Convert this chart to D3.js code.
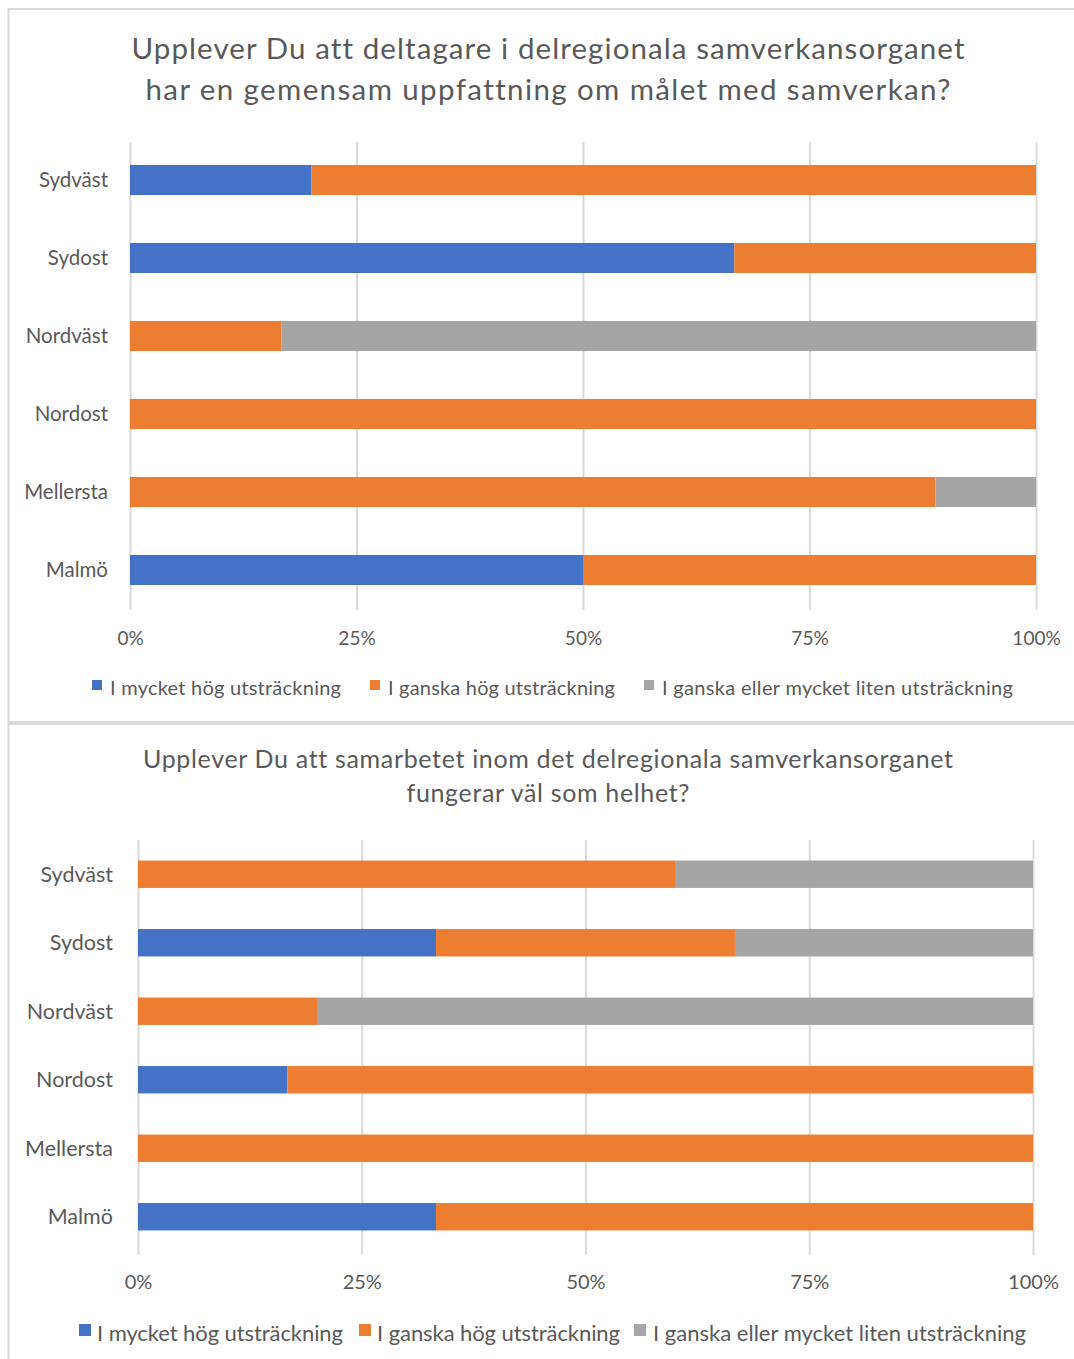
<!DOCTYPE html>
<html><head><meta charset="utf-8">
<script src="https://cdn.jsdelivr.net/npm/d3@7"></script>
<style>html,body{margin:0;padding:0;background:#fff;}svg{display:block;}text{font-variant-ligatures:none;}</style>
</head><body>
<script>
const categories = ["Sydväst", "Sydost", "Nordväst", "Nordost", "Mellersta", "Malmö"];
const seriesNames = ["I mycket hög utsträckning", "I ganska hög utsträckning", "I ganska eller mycket liten utsträckning"];
const colors = ["#4472C4", "#ED7D31", "#A5A5A5"];
const tickLabels = ["0%", "25%", "50%", "75%", "100%"];
const tickValues = [0, 0.25, 0.5, 0.75, 1];

const title1 = ["Upplever Du att deltagare i delregionala samverkansorganet", "har en gemensam uppfattning om målet med samverkan?"];
const hogA   = [0.20, 0.667, 0, 0, 0, 0.50];
const ganskaA= [0.80, 0.333, 0.167, 1.0, 0.889, 0.50];
const litenA = [0, 0, 0.833, 0, 0.111, 0];

const title2 = ["Upplever Du att samarbetet inom det delregionala samverkansorganet", "fungerar väl som helhet?"];
const hogB   = [0, 0.333, 0, 0.167, 0, 0.333];
const ganskaB= [0.60, 0.334, 0.20, 0.833, 1.0, 0.667];
const litenB = [0.40, 0.333, 0.80, 0, 0, 0];

const W = 1074, H = 1359;
const FONT = "Lato, 'Open Sans', sans-serif";
const svg = d3.select("body").append("svg").attr("width", W).attr("height", H);

// panel borders
svg.append("line").attr("x1", 8).attr("x2", W).attr("y1", 9).attr("y2", 9).attr("stroke", "#d9d9d9").attr("stroke-width", 2);
svg.append("line").attr("x1", 8.5).attr("x2", 8.5).attr("y1", 8).attr("y2", H).attr("stroke", "#d9d9d9").attr("stroke-width", 2);
svg.append("line").attr("x1", 8).attr("x2", W).attr("y1", 723).attr("y2", 723).attr("stroke", "#d9d9d9").attr("stroke-width", 4);

function drawChart(cfg) {
  const g = svg.append("g");
  const x = d3.scaleLinear().domain([0, 1]).range([cfg.x0, cfg.x1]);
  const y = d3.scaleBand().domain(categories).range([cfg.yTop, cfg.yBot]).paddingInner(cfg.pad).paddingOuter(cfg.pad / 2);

  // title
  cfg.title.forEach((t, i) => {
    g.append("text").attr("x", cfg.titleX).attr("y", cfg.titleY + i * cfg.titleLH)
      .attr("text-anchor", "middle").attr("font-family", FONT).attr("font-size", cfg.titleSize)
      .attr("textLength", cfg.titleW[i]).attr("lengthAdjust", "spacing")
      .attr("fill", "#595959").text(t);
  });

  // gridlines via axis
  const grid = g.append("g").attr("transform", `translate(0,${cfg.gridTop})`)
    .call(d3.axisBottom(x).tickValues(tickValues).tickSize(cfg.gridBot - cfg.gridTop).tickFormat(""));
  grid.select(".domain").remove();
  grid.selectAll("line").attr("stroke", "#d9d9d9").attr("stroke-width", 2);

  // tick labels
  const ax = g.append("g").attr("transform", `translate(0,${cfg.tickY})`)
    .call(d3.axisBottom(x).tickValues(tickValues).tickSize(0).tickFormat((d, i) => tickLabels[i]));
  ax.select(".domain").remove();
  ax.selectAll("text").attr("font-family", FONT).attr("font-size", cfg.tickSize).attr("fill", "#595959").attr("dy", 0);

  // category labels
  const ay = g.append("g").attr("transform", `translate(${cfg.catX},0)`)
    .call(d3.axisLeft(y).tickSize(0));
  ay.select(".domain").remove();
  ay.selectAll("text").attr("font-family", FONT).attr("font-size", cfg.catSize).attr("fill", "#595959").attr("dy", "0.35em");

  // stacked bars
  const rows = categories.map((c, i) => ({ cat: c, s0: cfg.data[0][i], s1: cfg.data[1][i], s2: cfg.data[2][i] }));
  const stack = d3.stack().keys(["s0", "s1", "s2"])(rows);
  stack.forEach((layer, k) => {
    g.append("g").selectAll("rect").data(layer.filter(d => d[1] - d[0] > 0)).join("rect")
      .attr("x", d => x(d[0])).attr("width", d => x(d[1]) - x(d[0]))
      .attr("y", d => y(d.data.cat)).attr("height", y.bandwidth())
      .attr("fill", colors[k]);
  });

  // legend
  cfg.legend.forEach((lx, k) => {
    g.append("rect").attr("x", lx).attr("y", cfg.legY - cfg.legSq + 2).attr("width", cfg.legSq - 2).attr("height", cfg.legSq - 2)
      .attr("fill", colors[k]);
    g.append("text").attr("x", cfg.legText[k]).attr("y", cfg.legY + 5).attr("font-family", FONT)
      .attr("font-size", cfg.legSize).attr("fill", "#595959")
      .attr("textLength", cfg.legW[k]).attr("lengthAdjust", "spacing").text(seriesNames[k]);
  });
}

drawChart({
  title: title1, titleX: 548, titleY: 59, titleLH: 41, titleSize: 29.5, titleW: [833, 805],
  x0: 130, x1: 1036, yTop: 141, yBot: 609, pad: 0.615,
  gridTop: 142, gridBot: 610, tickY: 642, tickSize: 19,
  catX: 111, catSize: 20.5,
  data: [hogA, ganskaA, litenA],
  legend: [92, 370, 644], legText: [110, 388, 662], legW: [231, 227, 351], legY: 690, legSq: 12, legSize: 20
});

drawChart({
  title: title2, titleX: 548, titleY: 768, titleLH: 34, titleSize: 25, titleW: [810, 283],
  x0: 138, x1: 1033, yTop: 840, yBot: 1251, pad: 0.6,
  gridTop: 840, gridBot: 1255, tickY: 1286, tickSize: 20,
  catX: 116, catSize: 21.5,
  data: [hogB, ganskaB, litenB],
  legend: [79, 359, 634], legText: [97, 377, 653], legW: [246, 243, 373], legY: 1336, legSq: 14, legSize: 22
});
</script>
</body></html>
